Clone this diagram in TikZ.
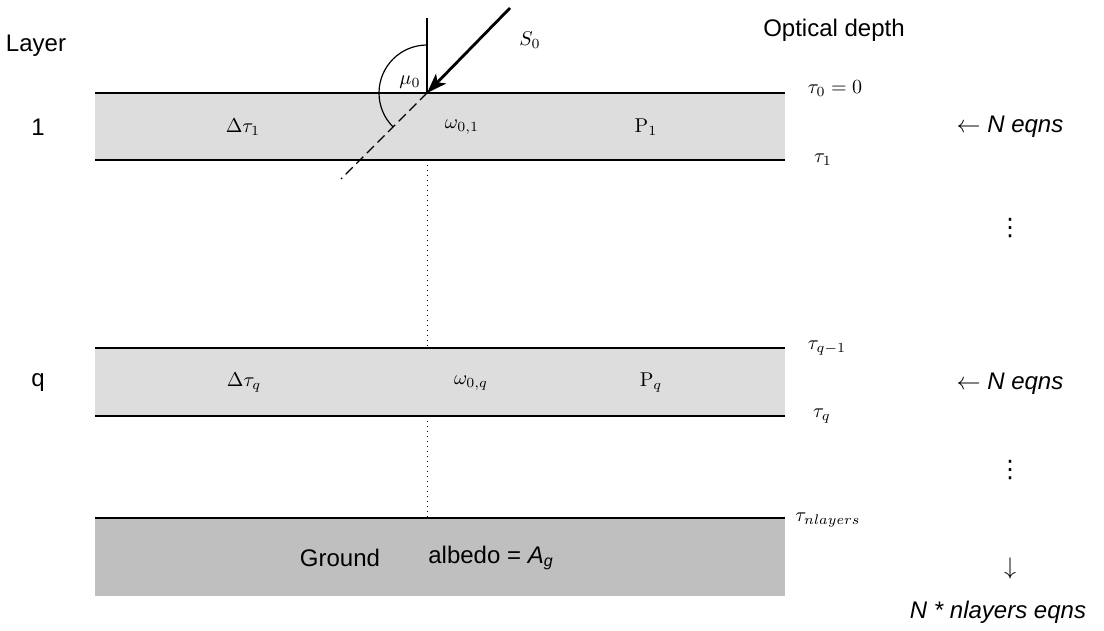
\documentclass[tikz,border=0pt]{standalone}
\usepackage[no-math]{fontspec}
\setmainfont{Liberation Sans}
\newfontfamily\symfont{DejaVu Sans}
\usetikzlibrary{arrows.meta}

\begin{document}
\begin{tikzpicture}[
  x=0.5pt, y=-0.5pt,
  band/.style={fill=gray!27},
  soil/.style={fill=gray!50},
  bound/.style={line width=0.6pt, draw=black},
  sunray/.style={line width=1.4pt, -{Stealth[length=10pt, width=7pt, inset=2.5pt]}},
  txt/.style={font=\fontsize{12}{14}\selectfont, inner sep=1pt},
  itxt/.style={font=\fontsize{12}{14}\selectfont\itshape, inner sep=1pt},
  mth/.style={font=\fontsize{10}{12}\selectfont, inner sep=1pt}
]
  \useasboundingbox (0,0) rectangle (1104,631);

  % Capas grises y suelo
  \fill[band] (95,93) rectangle (785,160);
  \fill[band] (95,348) rectangle (785,416);
  \fill[soil] (95,518) rectangle (785,596);

  % Fronteras de las capas
  \foreach \y in {93,160,348,416,518} {
    \draw[bound] (95,\y) -- (785,\y);
  }

  % Lineas punteadas entre capas
  \draw[dotted, line width=0.5pt] (427,160) -- (427,348);
  \draw[dotted, line width=0.5pt] (427,416) -- (427,518);

  % Rayo incidente, cenit y direccion transmitida
  \coordinate (hit) at (427,93);
  \coordinate (zen) at (427,18);
  \coordinate (src) at (510,8);
  \coordinate (fwd) at (341,179);
  \draw[bound] (zen) -- (hit);
  \draw[sunray] (src) -- (hit);
  \draw[line width=0.6pt, dash pattern=on 5pt off 2.5pt] (hit) -- (fwd);
  \draw[line width=0.6pt] (427,45) arc[start angle=270, end angle=135, radius=48];

  \node[mth] (mu) at (410,82) {$\mu_0$};
  \node[mth] (sun) at (530,40) {$S_0$};

  % Encabezados
  \node[txt] (layerhd) at (36,46) {Layer};
  \node[txt] (depthhd) at (834,30) {Optical depth};
  \node[txt] (lay1) at (38,127) {1};
  \node[txt] (layq) at (38,383) {q};

  % Capa 1
  \node[mth] (dtau1) at (243,127) {$\Delta\tau_1$};
  \node[mth] (omg1) at (462,127) {$\omega_{0,1}$};
  \node[mth] (ph1) at (646,127) {$\mathrm{P}_1$};

  % Capa q
  \node[mth] (dtauq) at (244,383) {$\Delta\tau_q$};
  \node[mth] (omgq) at (471,383) {$\omega_{0,q}$};
  \node[mth] (phq) at (651,383) {$\mathrm{P}_q$};

  % Suelo
  \node[txt] (gnd) at (340,558) {Ground};
  \node[txt] (alb) at (491,558) {albedo = \textit{A\textsubscript{g}}};

  % Profundidades opticas
  \node[mth] (t0) at (835,89) {$\tau_0 = 0$};
  \node[mth] (t1) at (823,160) {$\tau_1$};
  \node[mth] (tqm) at (827,348) {$\tau_{q-1}$};
  \node[mth] (tq) at (822,416) {$\tau_q$};
  \node[mth] (tn) at (828,520) {$\tau_{nlayers}$};

  % Conteo de ecuaciones
  \node[itxt] (eq1) at (1010,127) {$\leftarrow$ N eqns};
  \node[itxt] (eqq) at (1010,384) {$\leftarrow$ N eqns};
  \node[txt] (dots1) at (1010,228) {\symfont ⋮};
  \node[txt] (dots2) at (1010,470) {\symfont ⋮};
  \node[txt] (down) at (1010,568) {$\downarrow$};
  \node[itxt] (total) at (998,612) {N * nlayers eqns};
\end{tikzpicture}
\end{document}
